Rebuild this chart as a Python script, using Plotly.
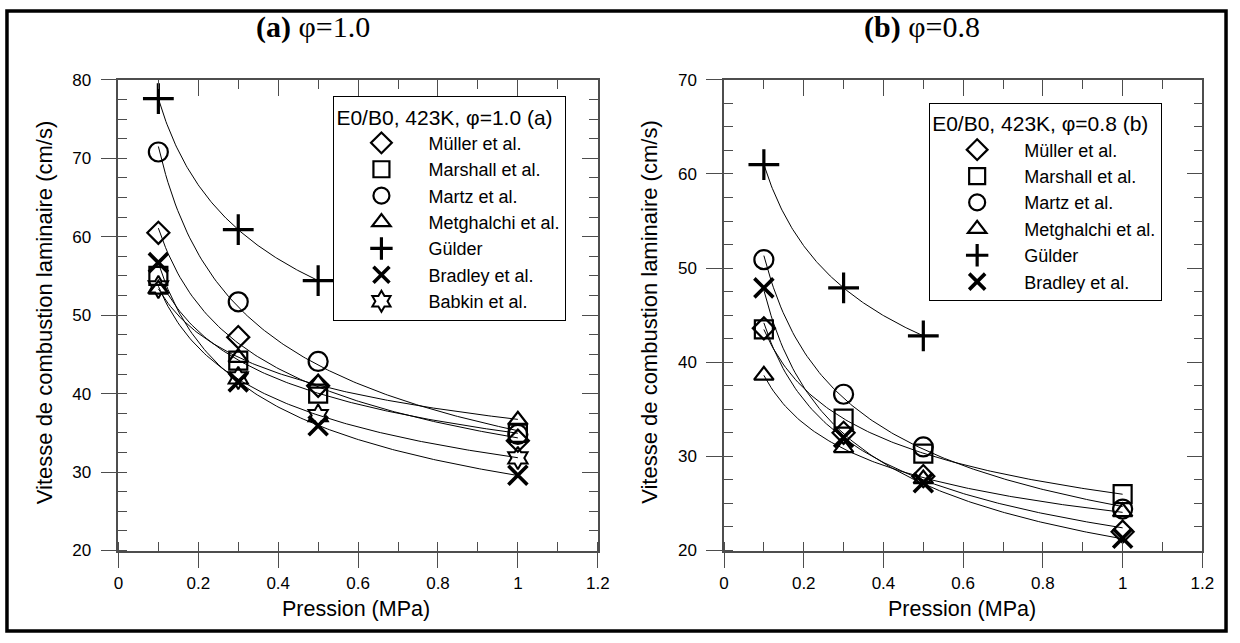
import numpy as np
import plotly.graph_objects as go

# ---------------- data ----------------
pressure = [0.1, 0.3, 0.5, 1.0]          # MPa
pressure_gulder = [0.1, 0.3, 0.5]        # MPa

series_names = ["Müller et al.", "Marshall et al.", "Martz et al.",
                "Metghalchi et al.", "Gülder", "Bradley et al.", "Babkin et al."]

# (a) phi = 1.0
muller_a = [60.5, 47.2, 41.0, 34.0]
marshall_a = [55.0, 44.2, 40.0, 35.0]
martz_a = [70.8, 51.7, 44.1, 34.8]
metghalchi_a = [53.3, 44.6, 41.3, 36.6]
gulder_a = [77.6, 60.9, 54.4]
bradley_a = [56.7, 41.5, 35.9, 29.6]
babkin_a = [53.6, 42.0, 37.2, 31.8]

# (b) phi = 0.8
muller_b = [43.6, 32.5, 27.9, 22.0]
marshall_b = [43.5, 34.0, 30.3, 26.0]
martz_b = [50.9, 36.6, 31.0, 24.4]
metghalchi_b = [38.6, 30.9, 27.6, 24.1]
gulder_b = [61.0, 47.9, 42.8]
bradley_b = [47.9, 32.0, 27.2, 21.3]

x_ticks = [0, 0.2, 0.4, 0.6, 0.8, 1.0, 1.2]
x_tick_labels = ["0", "0.2", "0.4", "0.6", "0.8", "1", "1.2"]

# ---------------- styles ----------------
symbols = {
    "Müller et al.": ("diamond-open", 17, 2.2),
    "Marshall et al.": ("square-open", 18, 2.2),
    "Martz et al.": ("circle-open", 19, 2.2),
    "Metghalchi et al.": ("triangle-up-open", 17, 2.2),
    "Gülder": ("cross-thin-open", 22, 3.2),
    "Bradley et al.": ("x-thin-open", 19, 3.6),
    "Babkin et al.": ("hexagram-open", 17, 2),
}

W, H = 1240, 643
FONT = "Arial, Liberation Sans, sans-serif"
SERIF = "Times New Roman, Liberation Serif, serif"
AX = "#4d4d4d"
TICKFONT = dict(family=FONT, size=17, color="black")

def px_x(v):
    return v / W

def px_y(v):
    return 1 - v / H

fig = go.Figure()

panels = [
    ("x", "y", "legend", [
        ("Müller et al.", pressure, muller_a),
        ("Marshall et al.", pressure, marshall_a),
        ("Martz et al.", pressure, martz_a),
        ("Metghalchi et al.", pressure, metghalchi_a),
        ("Gülder", pressure_gulder, gulder_a),
        ("Bradley et al.", pressure, bradley_a),
        ("Babkin et al.", pressure, babkin_a),
    ]),
    ("x2", "y2", "legend2", [
        ("Müller et al.", pressure, muller_b),
        ("Marshall et al.", pressure, marshall_b),
        ("Martz et al.", pressure, martz_b),
        ("Metghalchi et al.", pressure, metghalchi_b),
        ("Gülder", pressure_gulder, gulder_b),
        ("Bradley et al.", pressure, bradley_b),
    ]),
]

for xa, ya, leg, sers in panels:
    # fitted curves (power law through the read points)
    for name, p, v in sers:
        b, loga = np.polyfit(np.log(p), np.log(v), 1)
        pf = np.linspace(p[0], p[-1], 150)
        fig.add_trace(go.Scatter(x=pf, y=np.exp(loga) * pf ** b, mode="lines",
                                 line=dict(color="black", width=1),
                                 showlegend=False, hoverinfo="skip",
                                 xaxis=xa, yaxis=ya))
    for i, (name, p, v) in enumerate(sers):
        sym, size, lw = symbols[name]
        fig.add_trace(go.Scatter(x=p, y=v, mode="markers", name=name,
                                 marker=dict(symbol=sym, size=size, color="black",
                                             line=dict(color="black", width=lw)),
                                 legend=leg, legendgroup=leg + str(i),
                                 xaxis=xa, yaxis=ya))

# dummy traces to show overlay (top/right) axes
fig.add_trace(go.Scatter(x=[None], y=[None], xaxis="x3", yaxis="y3", showlegend=False))
fig.add_trace(go.Scatter(x=[None], y=[None], xaxis="x4", yaxis="y4", showlegend=False))

ydom = [px_y(558), px_y(73)]
xdom_a = [px_x(115), px_x(601)]
xdom_b = [px_x(729), px_x(1214)]

def main_x(dom, anchor):
    return dict(domain=dom, anchor=anchor, range=[0, 1.2], tickvals=x_ticks,
                ticktext=x_tick_labels, ticks="outside", ticklen=16, tickwidth=1.3,
                tickcolor=AX, showline=True, linecolor=AX, linewidth=1.5,
                showgrid=False, zeroline=False, tickfont=TICKFONT,
                ticklabelstandoff=0,
                minor=dict(ticks="inside", dtick=0.1, tick0=0, ticklen=9,
                           tickcolor=AX, tickwidth=1.3, showgrid=False))

def main_y(rng, dtick, mdtick, anchor):
    return dict(domain=ydom, anchor=anchor, range=rng, dtick=dtick, tick0=0,
                ticks="outside", ticklen=16, tickwidth=1.3, tickcolor=AX,
                showline=True, linecolor=AX, linewidth=1.5, showgrid=False,
                zeroline=False, tickfont=TICKFONT, ticklabelstandoff=6,
                minor=dict(ticks="inside", dtick=mdtick, tick0=0, ticklen=9,
                           tickcolor=AX, tickwidth=1.3, showgrid=False))

def over_x(ov, anchor):
    return dict(overlaying=ov, anchor=anchor, side="top", range=[0, 1.2], dtick=0.2,
                tick0=0, ticks="inside", ticklen=16, tickwidth=1.3, tickcolor=AX,
                showline=True, linecolor=AX, linewidth=1.5, showticklabels=False,
                showgrid=False, zeroline=False,
                minor=dict(ticks="inside", dtick=0.1, tick0=0, ticklen=9,
                           tickcolor=AX, tickwidth=1.3, showgrid=False))

def over_y(ov, anchor, rng, dtick, mdtick):
    return dict(overlaying=ov, anchor=anchor, side="right", range=rng, dtick=dtick,
                tick0=0, ticks="inside", ticklen=16, tickwidth=1.3, tickcolor=AX,
                showline=True, linecolor=AX, linewidth=1.5, showticklabels=False,
                showgrid=False, zeroline=False,
                minor=dict(ticks="inside", dtick=mdtick, tick0=0, ticklen=9,
                           tickcolor=AX, tickwidth=1.3, showgrid=False))

def legend_box(x, y, title):
    return dict(x=x, y=y, xref="paper", yref="paper", xanchor="left", yanchor="top",
                bordercolor="black", borderwidth=1, bgcolor="white",
                font=dict(family=FONT, size=18, color="black"),
                title=dict(text=title, font=dict(family=FONT, size=21, color="black")),
                traceorder="grouped", tracegroupgap=0, itemsizing="trace",
                itemwidth=84)

ytitle = "Vitesse de combustion laminaire (cm/s)"
TFONT = dict(family=FONT, size=22, color="black")
XFONT = dict(family=FONT, size=21.5, color="black")
annotations = [
    dict(text="<b>(a)</b> φ=1.0", x=px_x(312), y=px_y(19), xref="paper", yref="paper",
         xanchor="center", yanchor="middle", showarrow=False,
         font=dict(family=SERIF, size=30, color="black")),
    dict(text="<b>(b)</b> φ=0.8", x=px_x(930), y=px_y(19), xref="paper", yref="paper",
         xanchor="center", yanchor="middle", showarrow=False,
         font=dict(family=SERIF, size=30, color="black")),
    dict(text=ytitle, x=px_x(40), y=px_y(312), xref="paper", yref="paper",
         xanchor="center", yanchor="middle", textangle=-90, showarrow=False, font=TFONT),
    dict(text=ytitle, x=px_x(654), y=px_y(312), xref="paper", yref="paper",
         xanchor="center", yanchor="middle", textangle=-90, showarrow=False, font=TFONT),
    dict(text="Pression (MPa)", x=px_x(356), y=px_y(618), xref="paper", yref="paper",
         xanchor="center", yanchor="middle", showarrow=False, font=XFONT),
    dict(text="Pression (MPa)", x=px_x(970), y=px_y(618), xref="paper", yref="paper",
         xanchor="center", yanchor="middle", showarrow=False, font=XFONT),
]

fig.update_layout(
    width=W, height=H, margin=dict(l=0, r=0, t=0, b=0),
    paper_bgcolor="white", plot_bgcolor="white",
    xaxis=main_x(xdom_a, "y"),
    yaxis=main_y([20, 80], 10, 2.5, "x"),
    xaxis2=main_x(xdom_b, "y2"),
    yaxis2=main_y([20, 70], 10, 2.5, "x2"),
    xaxis3=over_x("x", "y"),
    yaxis3=over_y("y", "x", [20, 80], 10, 2.5),
    xaxis4=over_x("x2", "y2"),
    yaxis4=over_y("y2", "x2", [20, 70], 10, 2.5),
    legend=legend_box(px_x(333), px_y(90), "E0/B0, 423K, φ=1.0 (a)"),
    legend2=legend_box(px_x(937), px_y(97), "E0/B0, 423K, φ=0.8 (b)"),
    annotations=annotations,
    shapes=[dict(type="rect", xref="paper", yref="paper", x0=px_x(2), x1=px_x(1238),
                 y0=px_y(641), y1=px_y(2), line=dict(color="black", width=3.5))],
    showlegend=True,
)

fig.write_html("out.html")
